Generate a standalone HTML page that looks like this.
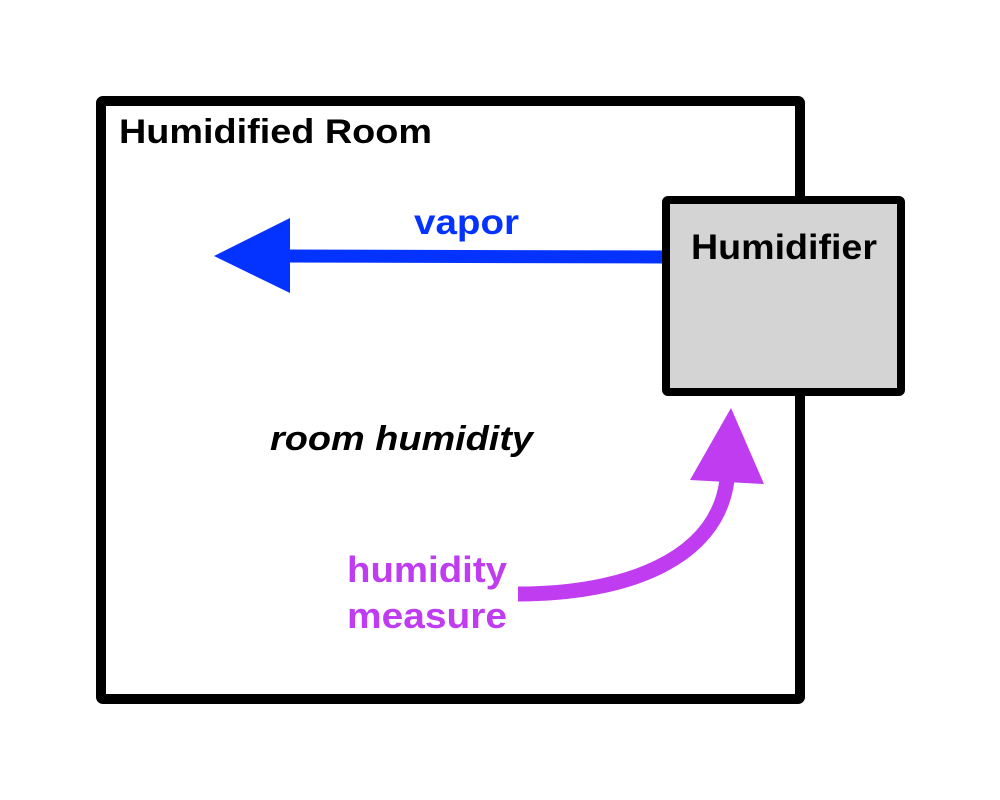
<!DOCTYPE html>
<html><head><meta charset="utf-8"><style>
html,body{margin:0;padding:0;background:#fff;}
svg{display:block;}
text{font-family:"Liberation Sans",Arial,sans-serif;font-weight:bold;}
</style></head><body>
<svg width="1000" height="800" viewBox="0 0 1000 800" xmlns="http://www.w3.org/2000/svg">
<rect x="101" y="101" width="699" height="598" fill="#fff" stroke="#000" stroke-width="10" rx="2"/>
<rect x="666" y="200" width="235" height="192" fill="#d4d4d4" stroke="#000" stroke-width="8" rx="2"/>
<text x="119" y="143" font-size="34" fill="#000" textLength="313" lengthAdjust="spacingAndGlyphs">Humidified Room</text>
<text x="691" y="259" font-size="35" fill="#000" textLength="186" lengthAdjust="spacingAndGlyphs">Humidifier</text>
<line x1="662" y1="257" x2="282" y2="256" stroke="#0433ff" stroke-width="13"/>
<polygon points="214,256 290,218 290,293" fill="#0433ff"/>
<text x="414" y="234" font-size="35" fill="#0433ff" textLength="105" lengthAdjust="spacingAndGlyphs">vapor</text>
<text x="270" y="450" font-size="34" fill="#000" font-style="italic" textLength="263" lengthAdjust="spacingAndGlyphs">room humidity</text>
<text x="347" y="582" font-size="36" fill="#bf3cf0" textLength="160" lengthAdjust="spacingAndGlyphs">humidity</text>
<text x="347" y="628" font-size="36" fill="#bf3cf0" textLength="160" lengthAdjust="spacingAndGlyphs">measure</text>
<path d="M518,594 C625,594 717,560 727,480" fill="none" stroke="#bf3cf0" stroke-width="15"/>
<polygon points="731,408 690,480 764,484" fill="#bf3cf0"/>
</svg>
</body></html>
